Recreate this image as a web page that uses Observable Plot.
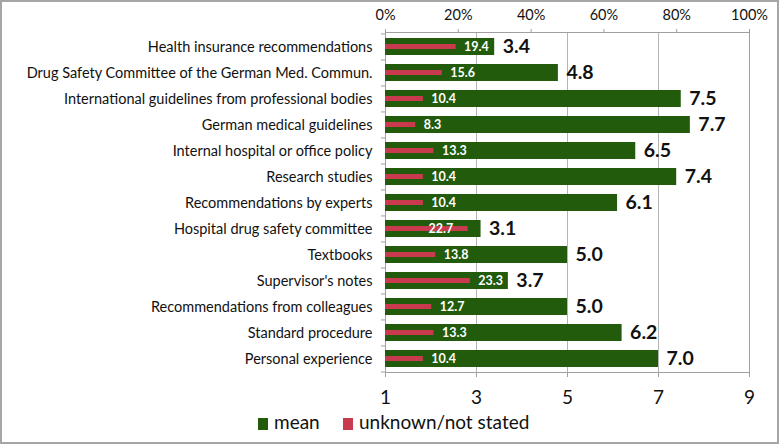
<!DOCTYPE html>
<html>
<head>
<meta charset="utf-8">
<script src="https://cdn.jsdelivr.net/npm/d3@7"></script>
<script src="https://cdn.jsdelivr.net/npm/@observablehq/plot@0.6"></script>
<style>
  html, body { margin: 0; padding: 0; background: #fff; }
  #wrap { position: relative; width: 779px; height: 444px; box-sizing: border-box; border: 2px solid #a6a6a6; overflow: hidden; font-family: Lato, "Open Sans", sans-serif; }
  #chart svg { display: block; }
  .lg { position: absolute; top: 408px; font-size: 19px; color: #111; line-height: 24px; }
  .sw { display: inline-block; width: 10px; height: 12px; vertical-align: -1px; margin-right: 6px; }
</style>
</head>
<body>
<div id="wrap">
  <div id="chart"></div>
  <div class="lg" style="left:256px"><span class="sw" style="background:#215b0b"></span>mean</div>
  <div class="lg" style="left:341px"><span class="sw" style="background:#c93a4e"></span>unknown/not stated</div>
</div>
<script>
const categories = [
  "Health insurance recommendations",
  "Drug Safety Committee of the German Med. Commun.",
  "International guidelines from professional bodies",
  "German medical guidelines",
  "Internal hospital or office policy",
  "Research studies",
  "Recommendations by experts",
  "Hospital drug safety committee",
  "Textbooks",
  "Supervisor's notes",
  "Recommendations from colleagues",
  "Standard procedure",
  "Personal experience"
];
const means = [3.4, 4.8, 7.5, 7.7, 6.5, 7.4, 6.1, 3.1, 5.0, 3.7, 5.0, 6.2, 7.0];
const unknownPct = [19.4, 15.6, 10.4, 8.3, 13.3, 10.4, 10.4, 22.7, 13.8, 23.3, 12.7, 13.3, 10.4];
const meanTicks = [1, 3, 5, 7, 9];
const pctTicks = [0, 20, 40, 60, 80, 100];

const GREEN = "#215b0b", RED = "#c93a4e", GRID = "#b4b4b4", AXIS = "#a0a0a0";
const toMean = p => 1 + p / 100 * 8;
const data = categories.map((c, i) => ({cat: c, mean: means[i], pct: unknownPct[i]}));
// label fits between red end and green end?
const fits = d => toMean(d.pct) + 34 / 45.25 <= d.mean;

const chart = Plot.plot({
  width: 775,
  height: 405,
  marginLeft: 383,
  marginRight: 28,
  marginTop: 30,
  marginBottom: 35,
  style: {fontFamily: "Lato, 'Open Sans', sans-serif", color: "#111", background: "#fff"},
  x: {domain: [1, 9]},
  y: {domain: categories, paddingInner: 0.35, paddingOuter: 0.19},
  marks: [
    Plot.ruleX(meanTicks.filter(t => t > 1), {stroke: GRID}),
    Plot.frame({stroke: AXIS}),
    Plot.barX(data, {x1: 1, x2: "mean", y: "cat", fill: GREEN}),
    Plot.barX(data, {x1: 1, x2: d => toMean(d.pct), y: "cat", fill: RED, insetTop: 6, insetBottom: 6}),
    Plot.text(data.filter(fits), {x: d => toMean(d.pct), y: "cat", text: d => d.pct.toFixed(1), dx: 8, textAnchor: "start", fill: "#fff", fontSize: 12.5, fontWeight: "bold"}),
    Plot.text(data.filter(d => !fits(d)), {x: d => toMean(d.pct), y: "cat", text: d => d.pct.toFixed(1), dx: -15, textAnchor: "end", fill: "#fff", fontSize: 12.5, fontWeight: "bold"}),
    Plot.text(data, {x: "mean", y: "cat", text: d => d.mean.toFixed(1), dx: 8, textAnchor: "start", fill: "#111", fontSize: 19.5, fontWeight: "bold"}),
    Plot.ruleY(categories, {y: d => d, x1: 1 - 0.09, x2: 1, dy: -13.05, stroke: AXIS}),
    Plot.ruleY(categories.slice(-1), {y: d => d, x1: 1 - 0.09, x2: 1, dy: 13.05, stroke: AXIS}),
    Plot.axisX({anchor: "top", ticks: pctTicks.map(toMean), tickFormat: v => Math.round((v - 1) / 8 * 100) + "%", tickSize: 4, tickPadding: 9, fontSize: 14.5, stroke: AXIS, label: null}),
    Plot.axisX({anchor: "bottom", ticks: meanTicks, tickFormat: d => String(d), tickSize: 5, tickPadding: 13, fontSize: 19, stroke: AXIS, label: null}),
    Plot.axisY({anchor: "left", tickSize: 0, tickPadding: 13, fontSize: 14.5, label: null})
  ]
});
document.getElementById("chart").appendChild(chart);
</script>
</body>
</html>
